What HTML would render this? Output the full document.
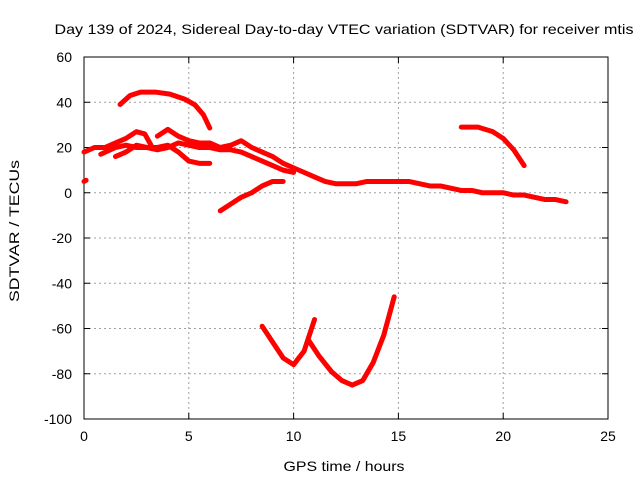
<!DOCTYPE html>
<html><head><meta charset="utf-8"><style>
body{margin:0;background:#fff;width:640px;height:480px;overflow:hidden}
text{font-family:"Liberation Sans",sans-serif;font-size:14px;fill:#000}
</style></head><body>
<svg id="chart" width="640" height="480">
<rect x="0" y="0" width="640" height="480" fill="#fff"/>
<g id="grid"></g>
<g id="axes"></g>
<g id="series"></g>
<text x="344" y="34" text-anchor="middle" textLength="579" lengthAdjust="spacingAndGlyphs">Day 139 of 2024, Sidereal Day-to-day VTEC variation (SDTVAR) for receiver mtis</text>
<text x="344" y="471" text-anchor="middle" textLength="121" lengthAdjust="spacingAndGlyphs">GPS time / hours</text>
<text transform="translate(19,231) rotate(-90)" text-anchor="middle" textLength="142" lengthAdjust="spacingAndGlyphs">SDTVAR / TECUs</text>
</svg>
<script>
const xTicks=[0,5,10,15,20,25];
const yTicks=[60,40,20,0,-20,-40,-60,-80,-100];
const s1=[[0,18],[0.5,20],[1,20],[1.5,22],[2,24],[2.5,27],[2.9,26],[3.2,21]];
const s2=[[0.8,17],[1.5,20],[2,21],[2.5,20],[3,20],[3.5,20],[4,21],[4.5,18],[5,14],[5.5,13],[6,13]];
const s3=[[1.5,16],[2,18],[2.5,21],[3,20],[3.5,19],[4,20],[4.5,22],[5,21],[5.5,20],[6,20],[6.5,19],[7,19],[7.5,18],[8,16],[8.5,14],[9,12],[9.5,10],[10,9]];
const s4=[[3.5,25],[4,28],[4.5,25],[5,23],[5.5,22],[6,22],[6.5,20],[7,21],[7.5,23],[8,20],[8.5,18],[9,16],[9.5,13],[10,11],[10.5,9],[11,7],[11.5,5],[12,4],[12.5,4],[13,4],[13.5,5],[14,5],[14.5,5],[15,5],[15.5,5],[16,4],[16.5,3],[17,3],[17.5,2],[18,1],[18.5,1],[19,0],[19.5,0],[20,0],[20.5,-1],[21,-1],[21.5,-2],[22,-3],[22.5,-3],[23,-4]];
const s5=[[6.5,-8],[7,-5],[7.5,-2],[8,0],[8.5,3],[9,5],[9.5,5]];
const s6=[[18,29],[18.8,29],[19.5,27],[20,24],[20.5,19],[21,12]];
const s7=[[8.5,-59],[9,-66],[9.5,-73],[10,-76],[10.5,-70],[11,-56]];
const s8=[[10.7,-65],[11.2,-72],[11.8,-79],[12.3,-83],[12.8,-85],[13.3,-83],[13.8,-75],[14.3,-63],[14.8,-46]];
const sA=[[1.72,39],[2.2,43],[2.7,44.5],[3.4,44.5],[4.1,43.6],[4.8,41.4],[5.3,38.8],[5.7,34.4],[6,28.6]];
const s9=[[0,5],[0.1,5.5]];
const allSeries=[s1,s2,s3,s4,s5,s6,s7,s8,sA,s9];
const L=84,R=608,T=57,B=419;
const X=v=>L+(v-0)/(25-0)*(R-L);
const Y=v=>B-(v+100)/160*(B-T);
const NS="http://www.w3.org/2000/svg";
function mk(t,a,p){const e=document.createElementNS(NS,t);for(const k in a)e.setAttribute(k,a[k]);p.appendChild(e);return e;}
const grid=document.getElementById('grid'),axes=document.getElementById('axes'),ser=document.getElementById('series');
xTicks.forEach(t=>{
 if(t>0&&t<25){const g=mk('line',{x1:X(t),x2:X(t),y1:T,y2:B,stroke:'#a0a0a0','stroke-dasharray':'2,3'},grid);
 }
 mk('line',{x1:X(t),x2:X(t),y1:B,y2:B-6,stroke:'#000'},axes);
 mk('line',{x1:X(t),x2:X(t),y1:T,y2:T+6,stroke:'#000'},axes);
 const tx=mk('text',{x:X(t),y:B+22,'text-anchor':'middle'},axes);tx.textContent=t;
 
});
yTicks.forEach(t=>{
 if(t>-100&&t<60){const g=mk('line',{x1:L,x2:R,y1:Y(t),y2:Y(t),stroke:'#a0a0a0','stroke-dasharray':'2,3'},grid);
 }
 mk('line',{x1:L,x2:L+6,y1:Y(t),y2:Y(t),stroke:'#000'},axes);
 mk('line',{x1:R,x2:R-6,y1:Y(t),y2:Y(t),stroke:'#000'},axes);
 const tx=mk('text',{x:L-12,y:Y(t)+5,'text-anchor':'end'},axes);tx.textContent=t;
 
});
const fr=mk('rect',{x:L,y:T,width:R-L,height:B-T,fill:'none',stroke:'#000'},axes);

allSeries.forEach((s,i)=>{
 const p=mk('polyline',{points:s.map(d=>X(d[0])+','+Y(d[1])).join(' '),fill:'none',stroke:'#f00','stroke-width':5,'stroke-linejoin':'round','stroke-linecap':'round'},ser);
 
 
});
</script>
</body></html>
